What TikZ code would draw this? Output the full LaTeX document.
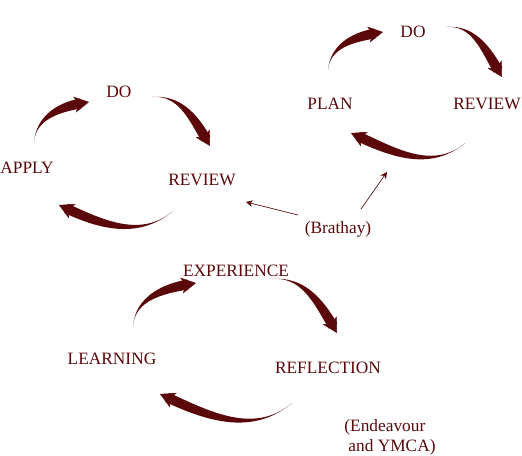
\documentclass[tikz,border=0pt]{standalone}
\usepackage{fontspec}
\setmainfont{Liberation Serif}
\usetikzlibrary{calc,arrows.meta}

\definecolor{maroon}{RGB}{90,8,10}

% tapered brush stroke: start, tip, out angle, in angle
\newcommand{\brusharrow}[4]{%
  \coordinate (headback) at ($(#2)+({#4}:11pt)$);
  \coordinate (strokeend) at ($(#2)+({#4}:6pt)$);
  \fill[maroon] (#1) to[out=#3,in=#4] ($(strokeend)+({#4+90}:3.7pt)$)
    -- ($(strokeend)+({#4-90}:3.7pt)$) to[out=#4,in=#3] (#1);
  \draw[brushtip] (headback) -- (#2);
}

\tikzset{
  stage/.style={text=maroon,font=\rmfamily\fontsize{13}{15}\selectfont,inner sep=1pt},
  brushtip/.style={maroon,line width=0.4pt,-{Stealth[length=11pt,width=12pt,inset=3pt]}},
  thinarrow/.style={maroon,line width=0.5pt,-{Stealth[length=5pt,width=5pt]}}
}

\begin{document}
\begin{tikzpicture}[x=0.75pt,y=-0.75pt]
\useasboundingbox (0,0) rectangle (522,455);

% apply - do - review
\node[stage] (do1) at (119,92) {DO};
\node[stage] (apply) at (27,168) {APPLY};
\node[stage] (review1) at (202,180) {REVIEW};
\coordinate (a1) at (34,142);  \coordinate (a2) at (89,102);
\coordinate (a3) at (152,97);  \coordinate (a4) at (210,146);
\coordinate (a5) at (173,211); \coordinate (a6) at (59,205);
\brusharrow{a1}{a2}{85}{190}
\brusharrow{a3}{a4}{5}{120}
\brusharrow{a5}{a6}{220}{335}

% plan - do - review
\node[stage] (do2) at (413,32) {DO};
\node[stage] (plan) at (330,104) {PLAN};
\node[stage] (review2) at (487,104) {REVIEW};
\coordinate (b1) at (328,70);  \coordinate (b2) at (383,32);
\coordinate (b3) at (446,27);  \coordinate (b4) at (502,77);
\coordinate (b5) at (465,143); \coordinate (b6) at (351,133);
\brusharrow{b1}{b2}{85}{190}
\brusharrow{b3}{b4}{5}{120}
\brusharrow{b5}{b6}{220}{335}

\node[stage] (brathay) at (338,229) {(Brathay)};
\coordinate (p1) at (298,215); \coordinate (p2) at (246,202);
\coordinate (p3) at (361,209); \coordinate (p4) at (387,172);
\draw[thinarrow] (p1) -- (p2);
\draw[thinarrow] (p3) -- (p4);

% experience - reflection - learning
\node[stage] (exp) at (236,271) {EXPERIENCE};
\node[stage] (learn) at (112,359) {LEARNING};
\node[stage] (refl) at (328,368) {REFLECTION};
\coordinate (c1) at (133,326); \coordinate (c2) at (196,283);
\coordinate (c3) at (272,279); \coordinate (c4) at (337,333);
\coordinate (c5) at (292,403); \coordinate (c6) at (160,394);
\brusharrow{c1}{c2}{85}{190}
\brusharrow{c3}{c4}{5}{120}
\brusharrow{c5}{c6}{220}{335}

\node[stage,align=left] (endeavour) at (390,437) {(Endeavour\\\hspace{3pt}and YMCA)};
\end{tikzpicture}
\end{document}
